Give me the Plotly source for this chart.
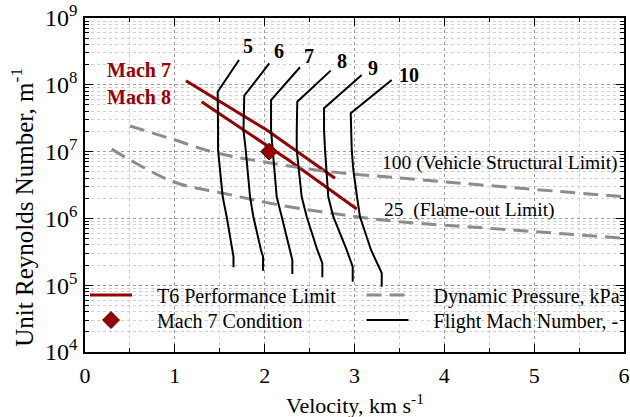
import plotly.graph_objects as go

# ---------------- data ----------------
mach_names = ["5", "6", "7", "8", "9", "10"]
mach5_v = [1.714, 1.477, 1.481, 1.481, 1.533, 1.577, 1.640, 1.653, 1.653]
mach5_re = [2.35e8, 7.89e7, 2.10e7, 1.06e7, 2.11e6, 1.06e6, 3.37e5, 2.67e5, 1.85e5]
mach6_v = [2.052, 1.773, 1.764, 1.789, 1.837, 1.874, 1.959, 1.982, 1.982]
mach6_re = [2.10e8, 6.87e7, 2.10e7, 1.06e7, 2.11e6, 1.06e6, 3.37e5, 2.67e5, 1.65e5]
mach7_v = [2.393, 2.071, 2.071, 2.090, 2.134, 2.190, 2.282, 2.308, 2.308]
mach7_re = [1.83e8, 5.92e7, 2.10e7, 1.06e7, 2.11e6, 1.06e6, 3.37e5, 2.38e5, 1.47e5]
mach8_v = [2.735, 2.363, 2.357, 2.357, 2.412, 2.468, 2.586, 2.642, 2.642]
mach8_re = [1.63e8, 5.58e7, 2.10e7, 1.06e7, 2.11e6, 1.06e6, 3.37e5, 2.13e5, 1.31e5]
mach9_v = [3.080, 2.661, 2.661, 2.672, 2.708, 2.764, 2.913, 2.980, 2.980]
mach9_re = [1.40e8, 4.45e7, 2.10e7, 1.06e7, 2.11e6, 1.06e6, 3.37e5, 1.89e5, 1.13e5]
mach10_v = [3.414, 2.958, 2.969, 2.987, 3.028, 3.061, 3.184, 3.303, 3.303]
mach10_re = [1.18e8, 3.74e7, 1.06e7, 5.31e6, 2.11e6, 1.06e6, 3.37e5, 1.52e5, 9.5e4]
mach_v = [mach5_v, mach6_v, mach7_v, mach8_v, mach9_v, mach10_v]
mach_re = [mach5_re, mach6_re, mach7_re, mach8_re, mach9_re, mach10_re]
# label anchor (velocity, log10 Re)
mach_label_v = [1.811, 2.160, 2.490, 2.861, 3.209, 3.607]
mach_label_logre = [8.585, 8.510, 8.436, 8.356, 8.256, 8.147]

t6_m7_v = [1.124, 2.023, 2.783]
t6_m7_re = [1.15e8, 2.10e7, 3.98e6]
t6_m8_v = [1.299, 1.781, 2.282, 3.025]
t6_m8_re = [5.58e7, 2.03e7, 7.23e6, 1.38e6]

q100_v = [0.501, 1.002, 1.469, 2.004, 2.727, 3.507, 4.62, 6.0]
q100_re = [2.42e7, 1.49e7, 9.5e6, 6.98e6, 5.0e6, 4.03e6, 3.0e6, 2.11e6]
q25_v = [0.297, 0.983, 1.54, 2.171, 3.025, 3.507, 4.508, 6.0]
q25_re = [1.09e7, 3.54e6, 2.38e6, 1.58e6, 1.06e6, 8.9e5, 7.1e5, 5.04e5]

cond_v = [2.05]
cond_re = [1.0e7]

x_ticks = [0, 1, 2, 3, 4, 5, 6]
y_ticks = [1e4, 1e5, 1e6, 1e7, 1e8, 1e9]
y_ticktext = ["10<sup>4</sup>", "10<sup>5</sup>", "10<sup>6</sup>",
              "10<sup>7</sup>", "10<sup>8</sup>", "10<sup>9</sup>"]

# ---------------- styling ----------------
RED = "#990000"
GRAY = "#8c8c8c"
FONT = "Liberation Serif"
NB = "\u00a0"

fig = go.Figure()

fig.add_trace(go.Scatter(x=t6_m7_v, y=t6_m7_re, mode="lines",
                         line=dict(color=RED, width=3),
                         name=NB * 4 + "T6 Performance Limit", legend="legend"))
fig.add_trace(go.Scatter(x=t6_m8_v, y=t6_m8_re, mode="lines",
                         line=dict(color=RED, width=3), showlegend=False))

fig.add_trace(go.Scatter(x=q100_v, y=q100_re, mode="lines",
                         line=dict(color=GRAY, width=3, dash="15px,8px", shape="spline"),
                         name=NB * 4 + "Dynamic Pressure, kPa", legend="legend2"))
fig.add_trace(go.Scatter(x=q25_v, y=q25_re, mode="lines",
                         line=dict(color=GRAY, width=3, dash="15px,8px", shape="spline"),
                         showlegend=False))

for i, (v, re) in enumerate(zip(mach_v, mach_re)):
    fig.add_trace(go.Scatter(x=v, y=re, mode="lines",
                             line=dict(color="black", width=2),
                             name=NB * 4 + "Flight Mach Number, -", legend="legend4",
                             showlegend=(i == 0)))

fig.add_trace(go.Scatter(x=cond_v, y=cond_re, mode="markers",
                         marker=dict(symbol="diamond", size=13, color=RED,
                                     line=dict(color="#4d0000", width=1)),
                         name=NB * 4 + "Mach 7 Condition", legend="legend3"))

# Mach number labels
for name, lv, ly in zip(mach_names, mach_label_v, mach_label_logre):
    fig.add_annotation(x=lv, y=ly, text="<b>" + name + "</b>", showarrow=False,
                       font=dict(family=FONT, size=20, color="black"),
                       xanchor="center", yanchor="middle")

fig.add_annotation(x=0.603, y=8.222, text="<b>Mach 7</b>", showarrow=False,
                   font=dict(family=FONT, size=20, color=RED))
fig.add_annotation(x=0.603, y=7.822, text="<b>Mach 8</b>", showarrow=False,
                   font=dict(family=FONT, size=20, color=RED))
fig.add_annotation(x=3.284, y=6.825, text="100 (Vehicle Structural Limit)", showarrow=False,
                   xanchor="left", font=dict(family=FONT, size=19.5, color="black"))
fig.add_annotation(x=3.303, y=6.126, text="25" + NB + NB + "(Flame-out Limit)", showarrow=False,
                   xanchor="left", font=dict(family=FONT, size=19.5, color="black"))

# axis titles (placed as paper annotations)
fig.add_annotation(xref="paper", yref="paper", x=0.501, y=-0.1557,
                   text="Velocity, km s<sup>-1</sup>", showarrow=False,
                   xanchor="center", yanchor="middle",
                   font=dict(family=FONT, size=22, color="black"))
fig.add_annotation(xref="paper", yref="paper", x=-0.1169, y=0.435,
                   text="Unit Reynolds Number, m<sup>-1</sup>", showarrow=False,
                   textangle=-90, xanchor="center", yanchor="middle",
                   font=dict(family=FONT, size=25, color="black"))

leg_common = dict(bgcolor="rgba(0,0,0,0)", borderwidth=0, itemwidth=42,
                  font=dict(family=FONT, size=20, color="black"),
                  xanchor="left", yanchor="top", orientation="v", tracegroupgap=0)

fig.update_layout(
    width=630, height=417,
    margin=dict(l=85, r=6, t=18, b=65, autoexpand=False),
    paper_bgcolor="white", plot_bgcolor="white",
    font=dict(family=FONT, size=20, color="black"),
    showlegend=True,
    legend=dict(x=0.0, y=0.229, **leg_common),
    legend2=dict(x=0.513, y=0.229, **leg_common),
    legend3=dict(x=0.0, y=0.154, **leg_common),
    legend4=dict(x=0.513, y=0.154, **leg_common),
    xaxis=dict(range=[0, 6], tickvals=x_ticks, ticks="inside", ticklen=8, tickwidth=1,
               tickcolor="black", showline=True, linecolor="black", linewidth=1.5,
               mirror="allticks", showgrid=True, gridcolor="#9a9a9a", griddash="dot",
               gridwidth=1, zeroline=False, automargin=False, ticklabeloverflow="allow",
               minor=dict(dtick=0.5, ticks="inside", ticklen=4, tickcolor="black",
                          showgrid=True, gridcolor="#cfcfcf", griddash="dot"),
               tickfont=dict(family=FONT, size=22), ticklabelstandoff=3),
    yaxis=dict(type="log", range=[4, 9], tickvals=y_ticks, ticktext=y_ticktext,
               ticks="inside", ticklen=8, tickwidth=1, tickcolor="black",
               showline=True, linecolor="black", linewidth=1.5, mirror="allticks",
               showgrid=True, gridcolor="#9a9a9a", griddash="dot", zeroline=False,
               automargin=False, ticklabeloverflow="allow",
               minor=dict(tickvals=[m * 10 ** e for e in range(4, 9) for m in range(2, 10)],
                          ticks="inside", ticklen=4, tickcolor="black",
                          showgrid=True, gridcolor="#cfcfcf", griddash="dot"),
               tickfont=dict(family=FONT, size=24), ticklabelstandoff=1),
)

fig.write_html("out.html", config={"displayModeBar": False},
               post_script="document.body.style.margin='0px';")
